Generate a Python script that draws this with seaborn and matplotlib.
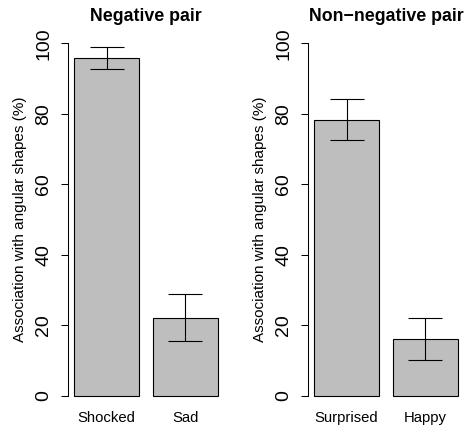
import numpy as np
import matplotlib
matplotlib.use('Agg')
import matplotlib.pyplot as plt
import seaborn as sns

# Datos (porcentaje de asociacion con formas angulares)
neg_labels = ['Shocked', 'Sad']
neg_means = [95.9, 22.2]
neg_lower = [92.7, 15.5]
neg_upper = [99.1, 28.9]

nonneg_labels = ['Surprised', 'Happy']
nonneg_means = [78.3, 16.2]
nonneg_lower = [72.5, 10.2]
nonneg_upper = [84.3, 22.0]

titles = ['Negative pair', 'Non\u2212negative pair']
ylabel = 'Association with angular shapes (%)'
yticks = [0, 20, 40, 60, 80, 100]

sns.set_theme(style='white')
plt.rcParams['font.family'] = ['Liberation Sans', 'DejaVu Sans']
plt.rcParams['text.color'] = 'black'
plt.rcParams['axes.labelcolor'] = 'black'
plt.rcParams['xtick.color'] = 'black'
plt.rcParams['ytick.color'] = 'black'

fig = plt.figure(figsize=(4.66, 4.26), dpi=100)
ax1 = fig.add_axes([0.1459, 0.0373, 0.3348, 0.894])
ax2 = fig.add_axes([0.661, 0.0373, 0.3348, 0.894])

paneles = [
    (ax1, neg_labels, neg_means, neg_lower, neg_upper, titles[0]),
    (ax2, nonneg_labels, nonneg_means, nonneg_lower, nonneg_upper, titles[1]),
]

for ax, labels, means, lower, upper, title in paneles:
    sns.barplot(x=labels, y=means, color='#bebebe', saturation=1,
                edgecolor='black', linewidth=0.8, width=1 / 1.2, ax=ax)
    # barras de error (intervalos)
    means_arr = np.array(means)
    yerr = [means_arr - np.array(lower), np.array(upper) - means_arr]
    ax.errorbar(x=[0, 1], y=means, yerr=yerr, fmt='none', ecolor='black',
                elinewidth=0.8, capsize=12.2, capthick=0.8)

    ax.set_xlim(-0.49, 1.49)
    ax.set_ylim(-4, 104)
    ax.set_yticks(yticks)
    ax.set_yticklabels([str(t) for t in yticks], fontsize=14)
    ax.tick_params(axis='y', labelrotation=90, length=5, width=0.75,
                   pad=6.5, color='black', left=True)
    ax.tick_params(axis='x', length=0, pad=1, labelsize=10.7)
    for lab in ax.get_yticklabels():
        lab.set_va('center')

    for s in ['top', 'right', 'bottom']:
        ax.spines[s].set_visible(False)
    ax.spines['left'].set_bounds(0, 100)
    ax.spines['left'].set_linewidth(0.75)
    ax.spines['left'].set_color('black')

    ax.set_ylabel(ylabel, fontsize=11)
    ax.yaxis.set_label_coords(-0.26, 0.5)
    ax.set_title(title, fontsize=12.8, fontweight='bold', pad=6)

fig.savefig('out.png', dpi=100)
